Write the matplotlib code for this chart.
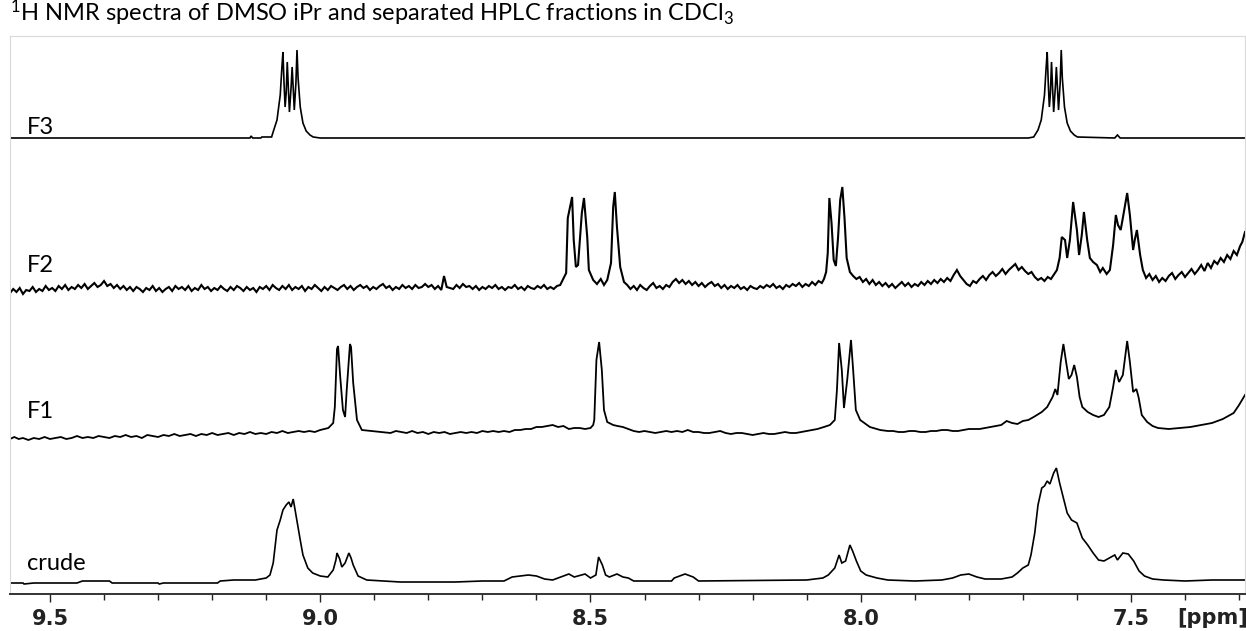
import matplotlib
matplotlib.use("Agg")
import matplotlib.pyplot as plt
from matplotlib.ticker import MultipleLocator, FixedLocator

# ---------------- data (ppm, intensity above own baseline) ----------------
spectrum_names = ["crude", "F1", "F2", "F3"]

f3_points = [
    (9.574, 0), (9.130, 0), (9.128, 2), (9.125, 0), (9.110, 0), (9.108, 1), (9.090, 1),
    (9.086, 8), (9.080, 18), (9.074, 43), (9.071, 70), (9.069, 86), (9.067, 55),
    (9.065, 31), (9.063, 45), (9.061, 76), (9.059, 50), (9.057, 26), (9.054, 50),
    (9.052, 71), (9.050, 50), (9.048, 28), (9.045, 55), (9.043, 88), (9.041, 60),
    (9.037, 31), (9.032, 15), (9.026, 7), (9.019, 3), (9.013, 1), (9.000, 0),
    (7.690, 0), (7.680, 1), (7.672, 8), (7.666, 18), (7.660, 43), (7.657, 70),
    (7.655, 86), (7.653, 55), (7.651, 31), (7.649, 45), (7.647, 76), (7.645, 50),
    (7.643, 26), (7.640, 50), (7.638, 71), (7.636, 50), (7.634, 28), (7.631, 55),
    (7.629, 88), (7.627, 60), (7.623, 31), (7.618, 15), (7.612, 7), (7.605, 3),
    (7.599, 1), (7.530, 0), (7.525, 3), (7.520, 0), (7.289, 0),
]

f2_points = [
    (9.574, -5), (9.568, -1), (9.562, -4), (9.556, 0), (9.550, -6), (9.544, -2),
    (9.538, -3), (9.532, 1), (9.526, -4), (9.520, -1), (9.514, -3), (9.508, 2),
    (9.502, -2), (9.496, 0), (9.490, -3), (9.484, 2), (9.478, -1), (9.472, 3),
    (9.466, -2), (9.460, 1), (9.454, -1), (9.448, 3), (9.442, 0), (9.436, 4),
    (9.430, -1), (9.424, 2), (9.418, 5), (9.412, 1), (9.406, 3), (9.400, 7),
    (9.394, 2), (9.388, 4), (9.382, 0), (9.376, 3), (9.370, -1), (9.364, 2),
    (9.358, -2), (9.352, 1), (9.346, -3), (9.340, 1), (9.334, -1), (9.328, -4),
    (9.322, 0), (9.316, -2), (9.310, 2), (9.304, -3), (9.298, 0), (9.292, -4),
    (9.286, -1), (9.280, 1), (9.274, -3), (9.268, 2), (9.262, -1), (9.256, 1),
    (9.250, -2), (9.244, 2), (9.238, -3), (9.232, 0), (9.226, -2), (9.220, 3),
    (9.214, -1), (9.208, 1), (9.202, -3), (9.196, 0), (9.190, -2), (9.184, 2),
    (9.178, -1), (9.172, -3), (9.166, 1), (9.160, -2), (9.154, 2), (9.148, 0),
    (9.142, -3), (9.136, 1), (9.130, -2), (9.124, 0), (9.118, -4), (9.112, 1),
    (9.106, -1), (9.100, 2), (9.094, -2), (9.088, 3), (9.082, 0), (9.076, -2),
    (9.070, 2), (9.064, -1), (9.058, 3), (9.052, -2), (9.046, 1), (9.040, -1),
    (9.034, 2), (9.028, -3), (9.022, 1), (9.016, -1), (9.010, 3), (9.004, 0),
    (8.998, -3), (8.992, 1), (8.986, -2), (8.980, 2), (8.974, 0), (8.968, -2),
    (8.962, 1), (8.956, 3), (8.950, -1), (8.944, 2), (8.938, -2), (8.932, 1),
    (8.926, 3), (8.920, 0), (8.914, 2), (8.908, -2), (8.902, 1), (8.896, -1),
    (8.890, 2), (8.884, 4), (8.878, 0), (8.872, 2), (8.866, -2), (8.860, 1),
    (8.854, -1), (8.848, 3), (8.842, 0), (8.836, 2), (8.830, -1), (8.824, 3),
    (8.818, 0), (8.812, 1), (8.806, 4), (8.800, 1), (8.794, 3), (8.788, -1),
    (8.782, 2), (8.776, -2), (8.771, 12), (8.766, 1), (8.760, 0), (8.754, -1),
    (8.748, 3), (8.742, 0), (8.736, 4), (8.730, 1), (8.724, 2), (8.718, -1),
    (8.712, 2), (8.706, -2), (8.700, 1), (8.694, -1), (8.688, 2), (8.682, 0),
    (8.676, 3), (8.670, -1), (8.664, 1), (8.658, -2), (8.652, 1), (8.646, 0),
    (8.640, 3), (8.634, -1), (8.628, 1), (8.622, -2), (8.616, 2), (8.610, 0),
    (8.604, -1), (8.598, 2), (8.592, 0), (8.586, 3), (8.580, -1), (8.574, 1),
    (8.568, -1), (8.562, 2), (8.556, 3), (8.545, 15), (8.542, 70),
    (8.534, 91), (8.531, 48), (8.527, 21), (8.523, 23), (8.516, 75), (8.512, 90),
    (8.506, 51), (8.503, 18), (8.495, 8), (8.488, 4), (8.481, 9), (8.475, 3),
    (8.469, 8), (8.462, 25), (8.458, 81), (8.455, 96), (8.451, 61), (8.445, 21),
    (8.438, 6), (8.432, 3), (8.426, -1), (8.420, 2), (8.414, -2), (8.408, 3),
    (8.402, 0), (8.396, -2), (8.390, 2), (8.384, 5), (8.378, 0), (8.372, 2),
    (8.366, -1), (8.360, 3), (8.354, 1), (8.348, 6), (8.342, 9), (8.336, 5),
    (8.330, 8), (8.324, 4), (8.318, 7), (8.312, 3), (8.306, 6), (8.300, 2),
    (8.294, 5), (8.288, 1), (8.282, 4), (8.276, 6), (8.270, 2), (8.264, 4),
    (8.258, 0), (8.252, 3), (8.246, -1), (8.240, 2), (8.234, 0), (8.228, 3),
    (8.222, -1), (8.216, 1), (8.210, -2), (8.204, 2), (8.198, 0), (8.192, -1),
    (8.186, 2), (8.180, 0), (8.174, 3), (8.168, 1), (8.162, 4), (8.156, 0),
    (8.150, 2), (8.144, -1), (8.138, 3), (8.132, 1), (8.126, 4), (8.120, 2),
    (8.114, 5), (8.108, 1), (8.102, 4), (8.096, 2), (8.090, 6), (8.084, 3),
    (8.078, 7), (8.072, 5), (8.068, 9), (8.064, 16), (8.061, 35), (8.058, 90),
    (8.054, 65), (8.050, 28), (8.046, 22), (8.042, 50), (8.038, 88), (8.034, 101),
    (8.030, 70), (8.026, 30), (8.020, 16), (8.014, 12), (8.008, 9), (8.002, 11),
    (7.996, 6), (7.990, 9), (7.984, 4), (7.978, 8), (7.972, 3), (7.966, 6),
    (7.960, 2), (7.954, 5), (7.948, 1), (7.942, 4), (7.936, 0), (7.930, 3),
    (7.924, 6), (7.918, 2), (7.912, 5), (7.906, 1), (7.900, 4), (7.894, 2),
    (7.888, 6), (7.882, 3), (7.876, 7), (7.870, 4), (7.864, 8), (7.858, 5),
    (7.852, 9), (7.846, 6), (7.840, 10), (7.834, 7), (7.828, 13), (7.822, 18),
    (7.816, 12), (7.810, 8), (7.804, 4), (7.798, 2), (7.792, 7), (7.786, 5),
    (7.780, 9), (7.774, 12), (7.768, 8), (7.762, 13), (7.756, 16), (7.750, 12),
    (7.744, 15), (7.738, 19), (7.732, 14), (7.726, 18), (7.720, 21), (7.714, 24),
    (7.708, 18), (7.702, 21), (7.696, 17), (7.690, 14), (7.684, 16), (7.678, 11),
    (7.672, 8), (7.666, 10), (7.660, 7), (7.654, 11), (7.648, 9), (7.642, 14),
    (7.637, 18), (7.632, 30), (7.628, 51), (7.622, 48), (7.618, 30),
    (7.613, 48), (7.607, 86), (7.600, 58), (7.596, 33), (7.591, 53), (7.587, 76),
    (7.581, 48), (7.576, 30), (7.570, 26), (7.563, 23), (7.557, 16), (7.552, 20),
    (7.545, 14), (7.539, 18), (7.533, 43), (7.528, 73), (7.524, 63), (7.519, 58),
    (7.515, 70), (7.507, 95), (7.502, 73), (7.496, 38), (7.493, 48), (7.489, 58),
    (7.483, 33), (7.478, 18), (7.472, 10), (7.466, 14), (7.460, 8), (7.454, 12),
    (7.448, 6), (7.442, 10), (7.436, 7), (7.430, 12), (7.424, 15), (7.418, 9),
    (7.412, 13), (7.406, 16), (7.400, 11), (7.394, 15), (7.388, 19), (7.382, 14),
    (7.376, 18), (7.370, 23), (7.364, 17), (7.358, 25), (7.352, 20), (7.346, 27),
    (7.340, 24), (7.334, 30), (7.328, 26), (7.322, 33), (7.316, 29), (7.310, 37),
    (7.304, 33), (7.298, 42), (7.294, 46), (7.289, 56),
]

f1_points = [
    (9.574, -2), (9.566, 0), (9.558, -2), (9.550, -1), (9.540, -3), (9.530, -1),
    (9.520, -2), (9.510, 0), (9.500, -2), (9.490, -1), (9.480, 0), (9.470, -2),
    (9.460, -1), (9.450, 1), (9.440, -1), (9.430, 0), (9.420, -1), (9.410, 1),
    (9.400, 0), (9.390, -1), (9.380, 1), (9.370, 0), (9.360, 2), (9.350, 0),
    (9.340, 1), (9.330, -1), (9.320, 2), (9.310, 1), (9.300, 0), (9.290, 2),
    (9.280, 1), (9.270, 3), (9.260, 1), (9.250, 2), (9.240, 3), (9.230, 1),
    (9.220, 3), (9.210, 2), (9.200, 4), (9.190, 2), (9.180, 3), (9.170, 4),
    (9.160, 2), (9.150, 4), (9.140, 3), (9.130, 5), (9.120, 3), (9.110, 4),
    (9.100, 3), (9.090, 5), (9.080, 4), (9.070, 6), (9.060, 4), (9.050, 5),
    (9.040, 6), (9.030, 5), (9.020, 6), (9.010, 5), (9.000, 7), (8.985, 9),
    (8.976, 14), (8.973, 30), (8.969, 88),
    (8.967, 91), (8.963, 60), (8.958, 27), (8.954, 20), (8.951, 47), (8.945, 93),
    (8.943, 90), (8.939, 54), (8.932, 17), (8.923, 7), (8.905, 6), (8.889, 5),
    (8.87, 4), (8.86, 6), (8.85, 5), (8.84, 4), (8.83, 6), (8.82, 4), (8.81, 5),
    (8.80, 3), (8.79, 5), (8.78, 4), (8.77, 5), (8.76, 3), (8.75, 4), (8.74, 5),
    (8.73, 4), (8.72, 5), (8.71, 4), (8.70, 6), (8.69, 5), (8.68, 6), (8.67, 5),
    (8.66, 6), (8.65, 5), (8.64, 7), (8.63, 7), (8.62, 8), (8.61, 8), (8.60, 10),
    (8.59, 10), (8.58, 11), (8.57, 12), (8.56, 10), (8.55, 11), (8.54, 8), (8.53, 9),
    (8.52, 9), (8.51, 8), (8.50, 9), (8.495, 12), (8.493, 17), (8.489, 77),
    (8.484, 95), (8.479, 67), (8.475, 27), (8.469, 15), (8.458, 12), (8.45, 11),
    (8.44, 10), (8.43, 8), (8.42, 6), (8.41, 5), (8.40, 6), (8.39, 5), (8.38, 4),
    (8.37, 5), (8.36, 6), (8.35, 5), (8.34, 6), (8.33, 5), (8.32, 7), (8.31, 5),
    (8.30, 5), (8.29, 4), (8.28, 4), (8.27, 5), (8.26, 6), (8.25, 4), (8.24, 3),
    (8.23, 4), (8.22, 4), (8.21, 3), (8.20, 2), (8.19, 3), (8.18, 4), (8.17, 3),
    (8.16, 3), (8.15, 4), (8.14, 5), (8.13, 4), (8.12, 4), (8.11, 5), (8.10, 6),
    (8.09, 7), (8.08, 8), (8.068, 10), (8.057, 12), (8.048, 17),
    (8.044, 47), (8.040, 94), (8.035, 67), (8.031, 29), (8.025, 57), (8.018, 97),
    (8.014, 67), (8.009, 27), (8.001, 17), (7.983, 10), (7.964, 7), (7.95, 6),
    (7.94, 6), (7.93, 5), (7.92, 5), (7.91, 6), (7.90, 6), (7.89, 5), (7.88, 5),
    (7.87, 6), (7.86, 6), (7.85, 7), (7.84, 7), (7.83, 6), (7.82, 6), (7.81, 7),
    (7.80, 8), (7.79, 8), (7.78, 8), (7.77, 9), (7.76, 10), (7.75, 11), (7.74, 12),
    (7.73, 16), (7.72, 14), (7.71, 13),
    (7.70, 16), (7.69, 17), (7.68, 20), (7.665, 25), (7.655, 30), (7.645, 40),
    (7.640, 48), (7.636, 42), (7.630, 75), (7.625, 93), (7.620, 75), (7.615, 58),
    (7.610, 62), (7.605, 72), (7.600, 60), (7.595, 40), (7.590, 30), (7.580, 25),
    (7.570, 22), (7.560, 20), (7.550, 22), (7.540, 30), (7.533, 50), (7.528, 67),
    (7.522, 55), (7.515, 62), (7.507, 96), (7.502, 75), (7.496, 45), (7.490, 48),
    (7.486, 40), (7.480, 22), (7.470, 15), (7.460, 11), (7.450, 9), (7.430, 8),
    (7.410, 9), (7.390, 10), (7.370, 12), (7.350, 14), (7.330, 18), (7.310, 24),
    (7.300, 32), (7.289, 42),
]

crude_points = [
    (9.574, 0), (9.55, 0), (9.548, -1), (9.53, 0), (9.45, 0), (9.445, 1), (9.44, 2),
    (9.39, 2), (9.385, 0), (9.30, 0), (9.298, -1), (9.29, 0), (9.19, 0), (9.185, 2),
    (9.16, 3), (9.12, 3), (9.10, 5), (9.093, 8), (9.087, 20), (9.080, 53),
    (9.074, 63), (9.069, 73), (9.063, 78), (9.058, 81), (9.054, 76), (9.050, 84),
    (9.045, 68), (9.037, 43), (9.032, 28), (9.023, 15), (9.014, 10), (9.000, 7),
    (8.986, 6), (8.976, 13), (8.971, 23), (8.969, 30), (8.964, 24), (8.960, 16),
    (8.954, 20), (8.947, 30), (8.943, 25), (8.939, 18), (8.930, 7), (8.914, 3),
    (8.852, 1), (8.75, 1), (8.70, 2), (8.66, 2), (8.645, 6), (8.63, 7), (8.615, 8),
    (8.60, 7), (8.585, 4), (8.57, 3), (8.56, 5), (8.54, 9), (8.53, 6), (8.51, 9),
    (8.50, 5), (8.49, 8), (8.485, 26), (8.478, 18), (8.472, 8), (8.465, 6),
    (8.451, 9), (8.44, 6), (8.43, 5), (8.42, 2), (8.35, 2), (8.345, 5), (8.325, 9),
    (8.31, 6), (8.30, 2), (8.10, 3), (8.07, 5), (8.06, 8), (8.048, 15), (8.040, 28),
    (8.035, 20), (8.028, 22), (8.020, 38), (8.015, 32), (8.008, 22), (8.00, 12),
    (7.99, 8), (7.97, 5), (7.95, 3), (7.90, 2), (7.85, 3), (7.83, 5), (7.815, 8),
    (7.80, 9), (7.785, 6), (7.77, 4), (7.74, 4), (7.72, 6), (7.71, 10), (7.70, 15),
    (7.69, 18), (7.685, 28), (7.678, 50), (7.672, 78), (7.665, 95), (7.66, 97),
    (7.655, 102), (7.65, 99), (7.643, 110), (7.638, 115), (7.632, 100),
    (7.625, 85), (7.618, 70), (7.61, 63), (7.60, 60), (7.59, 45), (7.58, 38),
    (7.57, 30), (7.56, 23), (7.55, 22), (7.54, 25), (7.53, 28), (7.525, 23),
    (7.515, 30), (7.505, 29), (7.495, 22), (7.485, 12), (7.475, 7), (7.46, 4),
    (7.44, 3), (7.40, 2), (7.35, 3), (7.30, 3), (7.289, 3),
]

tick_values = [9.5, 9.0, 8.5, 8.0, 7.5]
tick_labels = ["9.5", "9.0", "8.5", "8.0", "7.5"]
title_text = r"$\mathregular{^1}$H NMR spectra of DMSO iPr and separated HPLC fractions in CDCl$\mathregular{_3}$"

# ---------------- layout ----------------
W, H = 1246, 631
plt.rcParams["mathtext.fontset"] = "custom"
plt.rcParams["mathtext.rm"] = "Lato"
plt.rcParams["font.family"] = ["Lato", "DejaVu Sans"]

fig = plt.figure(figsize=(W / 100, H / 100), dpi=100)
ax_left, ax_right, ax_top, ax_bottom = 10, 1245, 36, 594
ax = fig.add_axes([ax_left / W, (H - ax_bottom) / H,
                   (ax_right - ax_left) / W, (ax_bottom - ax_top) / H])

offsets = {"crude": 11, "F1": 157, "F2": 306, "F3": 456}
label_y = {"crude": 31, "F1": 182, "F2": 329, "F3": 466}
line_w = {"crude": 1.2, "F1": 1.3, "F2": 1.5, "F3": 1.2}
series = {"crude": crude_points, "F1": f1_points, "F2": f2_points, "F3": f3_points}

for name in spectrum_names:
    pts = series[name]
    xs = [p[0] for p in pts]
    ys = [p[1] + offsets[name] for p in pts]
    ax.plot(xs, ys, color="black", lw=line_w[name], solid_joinstyle="miter")
    ax.text(9.542, label_y[name], name, fontsize=17, ha="left", va="center",
            family=["Lato", "DejaVu Sans"])

ax.set_xlim(9.574, 7.289)
ax.set_ylim(0, ax_bottom - ax_top)

for s in ["left", "right", "top"]:
    ax.spines[s].set_color("#d9d9d9")
    ax.spines[s].set_linewidth(0.8)
ax.spines["bottom"].set_color("#333333")
ax.spines["bottom"].set_linewidth(1.4)

ax.set_yticks([])
ax.xaxis.set_major_locator(FixedLocator(tick_values))
ax.set_xticklabels(tick_labels)
ax.xaxis.set_minor_locator(MultipleLocator(0.1))
ax.tick_params(axis="x", which="major", direction="out", length=6, width=1.0,
               pad=5, colors="#222222")
ax.tick_params(axis="x", which="minor", direction="out", length=4.5, width=1.0,
               colors="#222222")
for lab in ax.get_xticklabels():
    lab.set_family(["Liberation Sans Narrow", "DejaVu Sans"])
    lab.set_fontweight("bold")
    lab.set_fontsize(15)

fig.text(1213 / W, 1 - 618 / H, "[ppm]", ha="center", va="center",
         fontsize=15, fontweight="bold", family=["Liberation Sans Narrow", "DejaVu Sans"],
         color="#222222")

fig.text(10 / W, 1 - 13 / H, title_text, ha="left", va="center", fontsize=17,
         family=["Lato", "DejaVu Sans"])

fig.savefig("out.png", dpi=100)
